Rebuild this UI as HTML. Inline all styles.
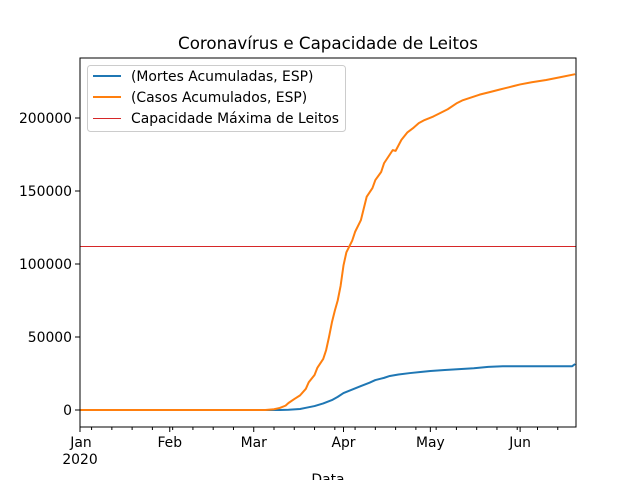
<!DOCTYPE html>
<html><head><meta charset="utf-8"><style>
body{margin:0;background:#fff}
svg{display:block;font-family:"DejaVu Sans","Liberation Sans",sans-serif}
</style></head><body>
<svg id="chart" width="640" height="480">
<rect width="640" height="480" fill="#fff"/>
<text x="328" y="49" font-size="16.7" text-anchor="middle">Coronavírus e Capacidade de Leitos</text>
<g id="ticks"></g>
<g id="plot"></g>
<rect x="80" y="58" width="496" height="369" fill="none" stroke="#000" stroke-width="1"/>
<text x="328" y="484" font-size="13.9" text-anchor="middle">Data</text>
<g>
<rect x="87.5" y="65.5" width="258" height="66" rx="3" fill="#fff" fill-opacity="0.8" stroke="#ccc"/>
<g><line x1="93" y1="76" x2="121" y2="76" stroke="#1f77b4" stroke-width="2"/><text x="131" y="81" font-size="13.9">(Mortes Acumuladas, ESP)</text></g>
<g><line x1="93" y1="97" x2="121" y2="97" stroke="#ff7f0e" stroke-width="2"/><text x="131" y="102" font-size="13.9">(Casos Acumulados, ESP)</text></g>
<g><line x1="93" y1="118.5" x2="121" y2="118.5" stroke="#d62728" stroke-width="1"/><text x="131" y="123" font-size="13.9">Capacidade Máxima de Leitos</text></g>
</g>
</svg>
<script>
const caseDays=[0,64,67,69,71,72,74,76,78,79,81,82,84,85,86,87,88,89,90,91,92,94,95,97,99,101,102,104,105,107,108,109,111,113,115,117,119,122,124,127,130,132,135,138,142,145,147,150,152,156,161,166,171];
const caseValues=[0,0,500,1400,3000,4800,7500,10000,14500,19000,24000,29000,35000,41000,50000,60000,68000,75000,85000,99000,108000,116000,122000,130000,146000,152000,157500,163000,169000,175000,178000,177500,185000,190000,193000,196500,198600,201000,203000,206000,210000,212000,214000,216000,218000,219500,220500,222000,223000,224500,226000,228000,230000];
const deathDays=[0,69,72,76,78,81,84,87,89,91,94,97,100,102,105,107,110,114,118,121,126,131,136,141,146,158,170,171];
const deathValues=[0,0,200,700,1500,2700,4500,6800,9000,11600,14000,16400,18700,20500,22000,23300,24300,25300,26100,26700,27400,28000,28600,29500,30000,30000,30000,31500];
const capacity=[112300];
const monthLabels=["Jan","Feb","Mar","Apr","May","Jun"];
const monthDays=[0,31,60,91,121,152];
const yTicks=[0,50000,100000,150000,200000];

const NS="http://www.w3.org/2000/svg";
const X0=80,X1=576,Y0=427,Y1=58,DMIN=0,DMAX=171.3,VMIN=-11644,VMAX=241096;
const xs=d=>X0+(d-DMIN)/(DMAX-DMIN)*(X1-X0);
const ys=v=>Y0-(v-VMIN)/(VMAX-VMIN)*(Y0-Y1);
function mk(tag,attrs,parent){const e=document.createElementNS(NS,tag);for(const k in attrs)e.setAttribute(k,attrs[k]);parent.appendChild(e);return e;}
const plot=document.getElementById('plot'),ticks=document.getElementById('ticks');

const cy=Math.floor(ys(capacity[0]))+0.5;
const cap=mk('line',{x1:X0,x2:X1,y1:cy,y2:cy,stroke:'#d62728','stroke-width':1},plot);


function series(days,vals,color,name){
  const p=mk('polyline',{points:days.map((d,i)=>xs(d)+','+ys(vals[i])).join(' '),fill:'none',stroke:color,'stroke-width':2,'stroke-linejoin':'round'},plot);
  
  
}
series(deathDays,deathValues,'#1f77b4','deaths-line');
series(caseDays,caseValues,'#ff7f0e','cases-line');

yTicks.forEach(v=>{
  const y=ys(v);
  mk('line',{x1:X0-5,x2:X0,y1:y,y2:y,stroke:'#000'},ticks);
  const t=mk('text',{x:X0-8,y:y+5,'font-size':13.9,'text-anchor':'end'},ticks);
  t.textContent=String(v);
  
  
});
monthDays.forEach((d,i)=>{
  const x=xs(d);
  mk('line',{x1:x,x2:x,y1:Y0,y2:Y0+5,stroke:'#000'},ticks);
  const t=mk('text',{x:i==0?x+1:x,y:Y0+20,'font-size':13.9,'text-anchor':'middle'},ticks);
  t.textContent=monthLabels[i];
  
  
});
const yr=mk('text',{x:X0,y:Y0+37,'font-size':13.9,'text-anchor':'middle'},ticks);
yr.textContent='2020';


for(let d=4;d<DMAX;d+=7){
  if(monthDays.includes(d))continue;
  const x=xs(d);
  mk('line',{x1:x,x2:x,y1:Y0,y2:Y0+3,stroke:'#000'},ticks);
}
</script>
</body></html>
